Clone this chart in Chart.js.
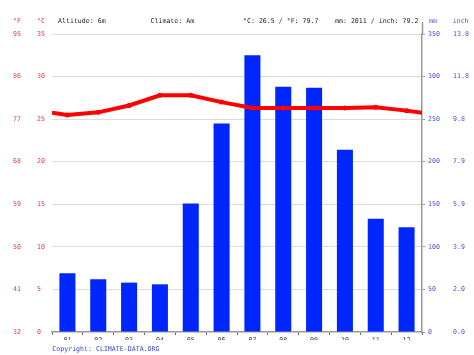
<!DOCTYPE html>
<html>
<head>
<meta charset="utf-8">
<script src="https://cdn.jsdelivr.net/npm/chart.js@4"></script>
<style>
  html, body { margin: 0; padding: 0; background: #fff; }
  #wrap { position: relative; width: 474px; height: 355px; overflow: hidden; }
  canvas { position: absolute; left: 0; top: 0; }
  .t { position: absolute; font-family: "DejaVu Sans Mono", monospace; font-size: 6.6px; line-height: 8px; white-space: pre; }
</style>
</head>
<body>
<div id="wrap">
  <canvas id="c" width="474" height="355"></canvas>
</div>
<script>
// ---- data ----
const months = ['01','02','03','04','05','06','07','08','09','10','11','12'];
const precipitationMm = [69, 62, 58, 56, 151, 245, 325, 288, 287, 214, 133, 123];
const temperatureC = [25.5, 25.8, 26.6, 27.8, 27.8, 27.0, 26.3, 26.3, 26.3, 26.3, 26.4, 26.0];
const celsiusTicks = [0, 5, 10, 15, 20, 25, 30, 35];
const fahrenheitTicks = ['32', '41', '50', '59', '68', '77', '86', '95'];
const mmTicks = [0, 50, 100, 150, 200, 250, 300, 350];
const inchTicks = ['0.0', '2.0', '3.9', '5.9', '7.9', '9.8', '11.8', '13.8'];
const headerTexts = [
  { text: '°F', x: 13, color: 'rgb(225,60,60)' },
  { text: '°C', x: 37, color: 'rgb(225,60,60)' },
  { text: 'Altitude: 6m', x: 58, color: '#222' },
  { text: 'Climate: Am', x: 150.5, color: '#222' },
  { text: '°C: 26.5 / °F: 79.7', x: 243, color: '#222' },
  { text: 'mm: 2011 / inch: 79.2', x: 335, color: '#222' },
  { text: 'mm', x: 429, color: 'rgb(70,80,220)' },
  { text: 'inch', x: 452.7, color: 'rgb(70,80,220)' }
];
const copyrightText = 'Copyright: CLIMATE-DATA.ORG';

// ---- text overlays ----
const wrap = document.getElementById('wrap');
headerTexts.forEach(h => {
  const d = document.createElement('div');
  d.className = 't';
  d.textContent = h.text;
  d.style.left = h.x + 'px';
  d.style.top = '17px';
  d.style.color = h.color;
  wrap.appendChild(d);
});
const cp = document.createElement('div');
cp.className = 't';
cp.textContent = copyrightText;
cp.style.left = '52.3px';
cp.style.top = '345px';
cp.style.color = 'rgb(50,70,210)';
wrap.appendChild(cp);

// line with wrap-around ends at plot edges
const edgeTemp = (temperatureC[0] + temperatureC[temperatureC.length - 1]) / 2;
const linePoints = [{ x: -0.5, y: edgeTemp }]
  .concat(temperatureC.map((v, i) => ({ x: i, y: v })))
  .concat([{ x: months.length - 0.5, y: edgeTemp }]);
const pointRadii = linePoints.map((p, i) => (i === 0 || i === linePoints.length - 1) ? 0 : 2.5);

const monoFont = { family: 'DejaVu Sans Mono', size: 6.6 };
const redTxt = 'rgb(225,60,60)';
const blueTxt = 'rgb(70,80,220)';

const axisExt = {
  id: 'axisExt',
  afterDraw(chart) {
    const s = chart.scales.yMm;
    const ctx = chart.ctx;
    ctx.save();
    ctx.strokeStyle = '#999';
    ctx.lineWidth = 1.5;
    ctx.beginPath();
    ctx.moveTo(s.left + 0.5, chart.chartArea.top - 12);
    ctx.lineTo(s.left + 0.5, chart.chartArea.top);
    ctx.stroke();
    ctx.restore();
  }
};

new Chart(document.getElementById('c'), {
  type: 'bar',
  data: {
    labels: months,
    datasets: [
      {
        type: 'line',
        data: linePoints,
        xAxisID: 'xl',
        yAxisID: 'y',
        borderColor: '#ff0000',
        backgroundColor: '#ff0000',
        borderWidth: 4,
        pointRadius: pointRadii,
        pointHoverRadius: pointRadii,
        pointBorderWidth: 0,
        tension: 0,
        order: 0
      },
      {
        type: 'bar',
        data: precipitationMm,
        xAxisID: 'x',
        yAxisID: 'yMm',
        backgroundColor: '#0026ff',
        borderWidth: 0,
        grouped: false,
        barPercentage: 0.52,
        categoryPercentage: 1,
        order: 1
      }
    ]
  },
  options: {
    responsive: false,
    animation: false,
    devicePixelRatio: 1,
    layout: { padding: { left: 13, right: 0, top: 34, bottom: 15 } },
    plugins: { legend: { display: false }, tooltip: { enabled: false } },
    scales: {
      x: {
        type: 'category',
        position: 'bottom',
        offset: true,
        grid: { display: true, offset: true, drawOnChartArea: false, tickLength: 3, color: '#666', lineWidth: 1 },
        border: { display: true, color: '#999', width: 1.5 },
        ticks: { font: monoFont, color: '#333', padding: 1, maxRotation: 0, autoSkip: false },
        afterFit(s) { s.height = 8; }
      },
      xl: {
        type: 'linear',
        display: false,
        offset: false,
        bounds: 'ticks',
        min: -0.5,
        max: months.length - 0.5
      },
      yF: {
        type: 'linear',
        position: 'left',
        weight: 2,
        min: 32, max: 95,
        afterBuildTicks(s) { s.ticks = fahrenheitTicks.map(v => ({ value: Number(v) })); },
        ticks: {
          font: monoFont, color: redTxt, padding: 0, crossAlign: 'far',
          callback: (v, i) => fahrenheitTicks[i]
        },
        grid: { display: false, drawTicks: false },
        border: { display: false },
        afterFit(s) { s.width = 24; }
      },
      y: {
        type: 'linear',
        position: 'left',
        weight: 1,
        min: 0, max: 35,
        afterBuildTicks(s) { s.ticks = celsiusTicks.map(v => ({ value: v })); },
        ticks: { font: monoFont, color: redTxt, padding: 0, crossAlign: 'far' },
        grid: {
          color: (c) => c.tick && c.tick.value === 0 ? 'rgba(0,0,0,0)' : '#dcdcdc',
          lineWidth: 1, drawTicks: false
        },
        border: { display: false },
        afterFit(s) { s.width = 15; }
      },
      yMm: {
        type: 'linear',
        position: 'right',
        weight: 1,
        min: 0, max: 350,
        afterBuildTicks(s) { s.ticks = mmTicks.map(v => ({ value: v })); },
        ticks: { font: monoFont, color: blueTxt, padding: 3 },
        grid: { drawOnChartArea: false, tickLength: 3, color: '#999' },
        border: { display: true, color: '#999', width: 1.5 },
        afterFit(s) { s.width = 31; }
      },
      yIn: {
        type: 'linear',
        position: 'right',
        weight: 2,
        min: 0, max: 350,
        afterBuildTicks(s) { s.ticks = mmTicks.map(v => ({ value: v })); },
        ticks: {
          font: monoFont, color: blueTxt, padding: 0,
          callback: (v, i) => inchTicks[i]
        },
        grid: { display: false, drawTicks: false },
        border: { display: false },
        afterFit(s) { s.width = 21; }
      }
    }
  },
  plugins: [axisExt]
});
</script>
</body>
</html>
